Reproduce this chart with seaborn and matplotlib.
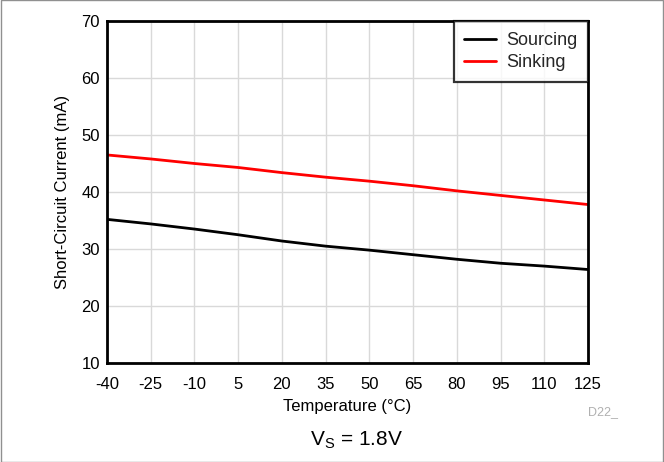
import matplotlib
matplotlib.use("Agg")
import matplotlib.pyplot as plt
import seaborn as sns
import pandas as pd
from matplotlib.patches import Rectangle

temps = [-40, -25, -10, 5, 20, 35, 50, 65, 80, 95, 110, 125]
sourcing = [35.2, 34.4, 33.5, 32.5, 31.4, 30.5, 29.8, 29.0, 28.2, 27.5, 27.0, 26.4]
sinking = [46.5, 45.8, 45.0, 44.3, 43.4, 42.6, 41.9, 41.1, 40.2, 39.4, 38.6, 37.8]
xticks = [-40, -25, -10, 5, 20, 35, 50, 65, 80, 95, 110, 125]
yticks = [10, 20, 30, 40, 50, 60, 70]

df = pd.DataFrame({
    "Temperature": temps * 2,
    "Current": sourcing + sinking,
    "Series": ["Sourcing"] * len(temps) + ["Sinking"] * len(temps),
})

sns.set_theme(style="white")
plt.rcParams["font.family"] = ["Liberation Sans", "DejaVu Sans"]

fig = plt.figure(figsize=(6.64, 4.62), dpi=100)
ax = fig.add_axes([107/664, 1-363/462, (588-107)/664, (363-21)/462])

sns.lineplot(data=df, x="Temperature", y="Current", hue="Series",
             palette={"Sourcing": "black", "Sinking": "#ff0000"},
             linewidth=2.0, ax=ax, legend=True)

ax.set_xlim(-40, 125)
ax.set_ylim(10, 70)
ax.set_xticks(xticks)
ax.set_xticklabels([str(t) for t in xticks])
ax.set_yticks(yticks)
ax.grid(True, color="#d9d9d9", linewidth=1.0)
ax.set_axisbelow(True)
for s in ax.spines.values():
    s.set_color("black")
    s.set_linewidth(2.0)
ax.tick_params(axis="both", length=0, labelsize=12, colors="black")
ax.tick_params(axis="x", pad=10)
ax.tick_params(axis="y", pad=5)
ax.set_xlabel("Temperature (°C)", fontsize=12, color="black", labelpad=5)
ax.set_ylabel("Short-Circuit Current (mA)", fontsize=12, color="black", labelpad=8)

leg = ax.legend(loc="upper right", borderaxespad=0, fontsize=13, frameon=True,
                fancybox=False, edgecolor="black", handlelength=1.75,
                borderpad=0.6, labelspacing=0.3, handletextpad=0.55)
leg.get_frame().set_linewidth(1.6)
leg.set_title(None)

fig.text(357/664, 1-440/462, r"V$_\mathregular{S}$ = 1.8V", ha="center", va="center",
         fontsize=15, color="black")
fig.text(603/664, 1-412/462, "D22_", ha="center", va="center",
         fontsize=9, color="#b0b0b0")

fig.patches.append(Rectangle((0.001, 0.001), 0.998, 0.998, transform=fig.transFigure,
                             fill=False, edgecolor="#909090", linewidth=1.0))

fig.savefig("out.png", dpi=100)
